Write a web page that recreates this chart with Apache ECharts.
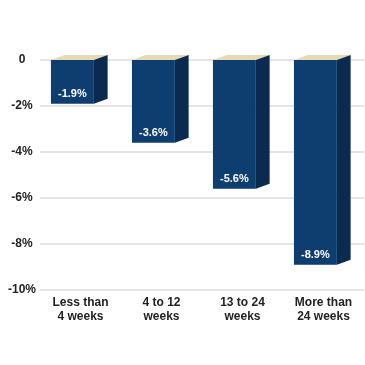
<!DOCTYPE html>
<html><head><meta charset="utf-8">
<script src="https://cdn.jsdelivr.net/npm/echarts@6/dist/echarts.min.js"></script>
<style>html,body{margin:0;padding:0;background:#fff}#c{width:365px;height:365px}</style>
</head><body><div id="c"></div>
<script>
const categories = ['Less than\n4 weeks', '4 to 12\nweeks', '13 to 24\nweeks', 'More than\n24 weeks'];
const values = [-1.9, -3.6, -5.6, -8.9];
const yTicks = [0, -2, -4, -6, -8, -10];

const chart = echarts.init(document.getElementById('c'));
chart.setOption({
  animation: false,
  grid: { left: 40, right: 1, top: 60, bottom: 75 },
  xAxis: {
    type: 'category', data: categories,
    axisLine: { show: false }, axisTick: { show: false },
    axisLabel: { color: '#222', fontWeight: 'bold', fontSize: 12, fontFamily: 'Liberation Sans, Arial', lineHeight: 14, margin: 6 }
  },
  yAxis: {
    type: 'value', min: -10, max: 0, interval: 2,
    axisLine: { show: false }, axisTick: { show: false },
    splitLine: { lineStyle: { color: '#dcdcdc', width: 1.5 } },
    axisLabel: { color: '#222', fontWeight: 'bold', fontSize: 12, fontFamily: 'Liberation Sans, Arial', margin: 18, align: 'center',
      formatter: v => v === 0 ? '0' : v + '%' }
  },
  series: [{
    type: 'custom',
    data: values.map((v, i) => [i, v]),
    renderItem: function (params, api) {
      const i = api.value(0), v = api.value(1);
      const top = api.coord([i, 0]);
      const bot = api.coord([i, v]);
      const band = api.size([1, 0])[0];
      const fw = band * 0.53, sd = band * 0.17, dy = 5;
      const x0 = top[0] - band / 2 + band * 0.135;
      const x1 = x0 + fw;
      const y0 = top[1], y1 = bot[1];
      return {
        type: 'group',
        children: [
          { type: 'polygon', shape: { points: [[x0, y0], [x1, y0], [x1 + sd, y0 - dy], [x0 + sd, y0 - dy]] },
            style: { fill: '#e6d9b4' } },
          { type: 'polygon', shape: { points: [[x1, y0], [x1 + sd, y0 - dy], [x1 + sd, y1 - dy], [x1, y1]] },
            style: { fill: '#0a2a50' } },
          { type: 'rect', shape: { x: x0, y: y0, width: fw, height: y1 - y0 },
            style: { fill: '#0e3d70' } },
          { type: 'text', style: { text: v.toFixed(1) + '%', x: (x0 + x1) / 2, y: y1 - 10,
              fill: '#fff', fontWeight: 'bold', fontSize: 11, fontFamily: 'Liberation Sans, Arial',
              align: 'center', verticalAlign: 'middle' } }
        ]
      };
    }
  }]
});
</script></body></html>
